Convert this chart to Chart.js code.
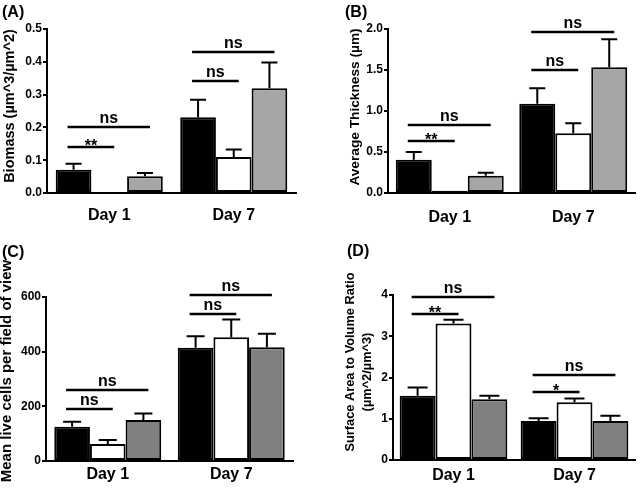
<!DOCTYPE html>
<html>
<head>
<meta charset="utf-8">
<script src="https://cdn.jsdelivr.net/npm/chart.js@4"></script>
<style>
body { margin: 0; background: #fff; }
#wrap { position: relative; width: 640px; height: 491px; overflow: hidden; background: #fff; }
canvas { position: absolute; }
.lbl { position: absolute; font: bold 16px "Liberation Sans", Arial, sans-serif; line-height: 16px; color: #000; }
</style>
</head>
<body>
<div id="wrap">
  <canvas id="chartA" width="320" height="245" style="left:0;top:0"></canvas>
  <canvas id="chartB" width="320" height="245" style="left:320px;top:0"></canvas>
  <canvas id="chartC" width="320" height="246" style="left:0;top:245px"></canvas>
  <canvas id="chartD" width="320" height="246" style="left:320px;top:245px"></canvas>
  <div class="lbl" style="left:2px;top:4px">(A)</div>
  <div class="lbl" style="left:345px;top:4px">(B)</div>
  <div class="lbl" style="left:2px;top:244px">(C)</div>
  <div class="lbl" style="left:347px;top:243px">(D)</div>
</div>
<script>
var days = ["Day 1", "Day 7"];
var groups = ["Group 1", "Group 2", "Group 3"];

// (A) biomass, mean and error per group: [Day 1, Day 7]
var biomassMean = [[0.071, 0.231], [0.003, 0.110], [0.051, 0.319]];
var biomassErr = [[0.018, 0.053], [0, 0.023], [0.010, 0.079]];
var biomassTicks = [0, 0.1, 0.2, 0.3, 0.4, 0.5];
// [day, from group, to group, line height, label]
var biomassSig = [[0, 0, 1, 0.140, "**"], [0, 0, 2, 0.201, "ns"], [1, 0, 1, 0.342, "ns"], [1, 0, 2, 0.429, "ns"]];

// (B) average thickness
var thickMean = [[0.406, 1.087], [0.028, 0.730], [0.211, 1.533]];
var thickErr = [[0.093, 0.191], [0, 0.122], [0.036, 0.341]];
var thickTicks = [0, 0.5, 1.0, 1.5, 2.0];
var thickSig = [[0, 0, 1, 0.637, "**"], [0, 0, 2, 0.824, "ns"], [1, 0, 1, 1.501, "ns"], [1, 0, 2, 1.959, "ns"]];

// (C) live cells
var cellsMean = [[125, 414], [62, 453], [150, 416]];
var cellsErr = [[19, 42], [15, 65], [24, 50]];
var cellsTicks = [0, 200, 400, 600];
var cellsSig = [[0, 0, 1, 190, "ns"], [0, 0, 2, 259, "ns"], [1, 0, 1, 539, "ns"], [1, 0, 2, 608, "ns"]];

// (D) surface area to volume ratio
var ratioMean = [[1.56, 0.945], [3.31, 1.40], [1.47, 0.945]];
var ratioErr = [[0.20, 0.065], [0.09, 0.09], [0.09, 0.125]];
var ratioTicks = [0, 1, 2, 3, 4];
var ratioSig = [[0, 0, 1, 3.53, "**"], [0, 0, 2, 3.94, "ns"], [1, 0, 1, 1.66, "*"], [1, 0, 2, 2.06, "ns"]];

var FONT = '"Liberation Sans", Arial, sans-serif';
Chart.defaults.font.family = FONT;
Chart.defaults.font.weight = 'bold';
Chart.defaults.color = '#000';

var extras = {
  id: 'extras',
  afterDatasetsDraw: function (chart, args, o) {
    var ctx = chart.ctx, y = chart.scales.y;
    ctx.save();
    ctx.strokeStyle = '#000';
    ctx.fillStyle = '#000';
    // error bars, upper half only
    ctx.lineWidth = 2;
    o.err.forEach(function (row, i) {
      var meta = chart.getDatasetMeta(i);
      row.forEach(function (e, j) {
        if (!e) return;
        var bar = meta.data[j];
        var yTop = y.getPixelForValue(o.mean[i][j]);
        var yCap = y.getPixelForValue(o.mean[i][j] + e);
        ctx.beginPath();
        ctx.moveTo(bar.x, yTop);
        ctx.lineTo(bar.x, yCap);
        ctx.moveTo(bar.x - o.cap, yCap);
        ctx.lineTo(bar.x + o.cap, yCap);
        ctx.stroke();
      });
    });
    // significance lines
    ctx.lineWidth = 2.5;
    ctx.textAlign = 'center';
    ctx.textBaseline = 'alphabetic';
    ctx.font = 'bold 16px ' + FONT;
    o.sig.forEach(function (s) {
      var x1 = chart.getDatasetMeta(s[1]).data[s[0]].x - 6;
      var x2 = chart.getDatasetMeta(s[2]).data[s[0]].x + 5;
      var yy = Math.round(y.getPixelForValue(s[3]));
      ctx.beginPath();
      ctx.moveTo(x1, yy);
      ctx.lineTo(x2, yy);
      ctx.stroke();
      var ty = s[4].charAt(0) === '*' ? yy + 4 : yy - 4;
      ctx.fillText(s[4], (x1 + x2) / 2, ty);
    });
    // y axis title
    var t = o.title;
    ctx.font = 'bold ' + t.size + 'px ' + FONT;
    ctx.textBaseline = 'middle';
    t.lines.forEach(function (line, k) {
      ctx.save();
      ctx.translate(t.xs[k], t.cy[k]);
      ctx.rotate(-Math.PI / 2);
      ctx.fillText(line, 0, 0);
      ctx.restore();
    });
    ctx.restore();
  }
};

function makeChart(id, mean, err, ticks, sig, p) {
  var fills = ['#000000', '#ffffff', p.grey];
  return new Chart(document.getElementById(id), {
    type: 'bar',
    data: {
      labels: days,
      datasets: groups.map(function (g, i) {
        return {
          label: g,
          data: mean[i],
          backgroundColor: fills[i],
          borderColor: '#000',
          borderWidth: 2,
          borderSkipped: false
        };
      })
    },
    options: {
      responsive: false,
      animation: false,
      categoryPercentage: p.cat,
      barPercentage: 1,
      layout: { padding: { top: p.top, right: p.right, left: 0, bottom: 0 } },
      plugins: {
        legend: { display: false },
        tooltip: { enabled: false },
        extras: { mean: mean, err: err, sig: sig, cap: p.cap, title: p.title }
      },
      scales: {
        x: {
          grid: { display: false, drawTicks: false },
          border: { display: true, color: '#000', width: 2 },
          ticks: { font: { size: 16, weight: 'bold' }, padding: p.dayPad, color: '#000' },
          afterFit: function (s) { s.height = p.xh; }
        },
        y: {
          min: ticks[0],
          max: ticks[ticks.length - 1],
          afterBuildTicks: function (s) { s.ticks = ticks.map(function (v) { return { value: v }; }); },
          grid: { drawOnChartArea: false, drawTicks: true, tickLength: 4, color: '#000', lineWidth: 2 },
          border: { display: true, color: '#000', width: 2 },
          ticks: {
            font: { size: 12, weight: 'bold' },
            padding: 1,
            color: '#000',
            callback: function (v) { return p.dec ? v.toFixed(p.dec) : String(v); }
          },
          afterFit: function (s) { s.width = p.yw; }
        }
      }
    },
    plugins: [extras]
  });
}

makeChart('chartA', biomassMean, biomassErr, biomassTicks, biomassSig, {
  grey: '#a6a6a6', cat: 0.86, top: 29, right: 24, yw: 47, xh: 52, dayPad: 13, cap: 8, dec: 1,
  title: { lines: ['Biomass (\u00b5m^3/\u00b5m^2)'], xs: [10], cy: [106], size: 14.5 }
});
makeChart('chartB', thickMean, thickErr, thickTicks, thickSig, {
  grey: '#a6a6a6', cat: 0.874, top: 29, right: 5, yw: 68, xh: 52, dayPad: 15, cap: 8, dec: 1,
  title: { lines: ['Average Thickness (\u00b5m)'], xs: [35], cy: [107], size: 13.7 }
});
makeChart('chartC', cellsMean, cellsErr, cellsTicks, cellsSig, {
  grey: '#808080', cat: 0.866, top: 52, right: 27, yw: 46, xh: 30, dayPad: 4, cap: 9, dec: 0,
  title: { lines: ['Mean live cells per field of view'], xs: [7], cy: [126], size: 15 }
});
makeChart('chartD', ratioMean, ratioErr, ratioTicks, ratioSig, {
  grey: '#808080', cat: 0.89, top: 50, right: 5, yw: 73, xh: 31, dayPad: 6, cap: 10, dec: 0,
  title: { lines: ['Surface Area to Volume Ratio', '(\u00b5m^2/\u00b5m^3)'], xs: [30, 47], cy: [117, 127], size: 12.8 }
});
</script>
</body>
</html>
